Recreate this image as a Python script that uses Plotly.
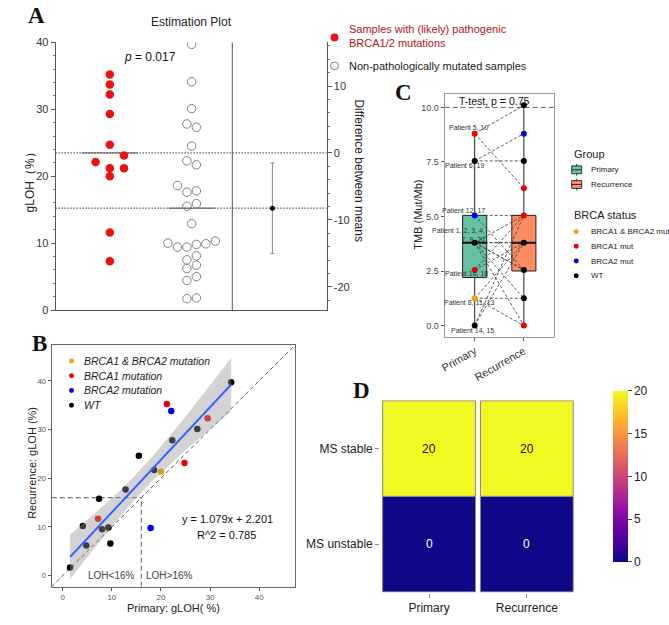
import numpy as np
import plotly.graph_objects as go

W, H = 669, 625
FONT = "Liberation Sans, Arial, sans-serif"
SERIF = "Liberation Serif, Times New Roman, serif"

# ---------------- Panel A data ----------------
a_brca_gloh = [35.2, 33.7, 32.2, 29.3, 24.7, 23.1, 22.1, 21.2, 21.2, 20.0, 11.6, 7.3]
a_brca_slot = [0, 0, 0, 0, 0, 1.5, -1.5, 0, 1.5, 0, 0, 0]
a_non_gloh = [39.7, 34.1, 30.1, 27.8, 27.3, 24.5, 22.3, 21.7, 18.6, 17.6, 17.8, 15.5, 15.9, 12.9,
              10.0, 9.4, 9.4, 9.8, 9.9, 10.3, 7.5, 8.1, 6.2, 6.7, 4.4, 5.0, 1.7, 1.8]
a_non_slot = [0, 0, 0, -0.5, 0.5, 0, -0.5, 0.5, -1.5, -0.5, 0.5, -0.5, 0.5, 0,
              -2.5, -1.5, -0.5, 0.5, 1.5, 2.5, -0.5, 0.5, -0.5, 0.5, -0.5, 0.5, -0.5, 0.5]
a_diff_ci = [-15.0, -1.5]
a_p_text = "<i>p</i> = 0.017"
a_legend = ["Samples with (likely) pathogenic<br>BRCA1/2 mutations", "Non-pathologically mutated samples"]

# ---------------- Panel B data ----------------
b_primary = [1.5, 4.1, 4.8, 7.2, 7.4, 8.0, 9.3, 9.7, 12.8, 15.5, 17.9, 18.6, 20.0, 21.2, 22.1, 22.3, 24.8, 27.4, 29.5, 34.3]
b_recur = [1.7, 10.2, 6.2, 11.7, 15.8, 9.5, 9.9, 6.6, 17.7, 24.6, 9.8, 21.7, 21.3, 35.2, 33.8, 27.8, 23.1, 30.1, 32.3, 39.7]
b_status = ["WT", "WT", "WT", "BRCA1", "WT", "WT", "WT", "WT", "WT", "WT", "BRCA2", "WT",
            "BRCA1&2", "BRCA1", "BRCA2", "WT", "BRCA1", "WT", "BRCA1", "WT"]
b_slope, b_intercept, b_r2 = 1.079, 2.201, 0.785
b_cut = 16
b_t975 = 2.101
b_legend_keys = ["BRCA1&2", "BRCA1", "BRCA2", "WT"]
b_legend_text = ["BRCA1 & BRCA2 mutation", "BRCA1 mutation", "BRCA2 mutation", "WT"]

# ---------------- Panel C data ----------------
c_groups = ["Primary", "Recurrence"]
c_q1 = [2.2, 2.5]
c_med = [3.8, 3.8]
c_q3 = [5.05, 5.05]
c_lo = [0.0, 0.0]
c_hi = [8.8, 10.1]
c_prim_pts = [8.8, 7.55, 5.05, 3.8, 2.55, 1.25, 0.0]
c_prim_status = ["BRCA1", "WT", "BRCA2", "WT", "BRCA1", "BRCA1&2", "WT"]
c_rec_pts = [10.1, 8.8, 7.55, 6.3, 5.05, 3.8, 2.55, 1.25, 0.0]
c_rec_status = ["WT", "BRCA2", "WT", "BRCA1", "BRCA1", "WT", "WT", "WT", "BRCA1"]
c_pair_prim = [3.8, 3.8, 3.8, 3.8, 8.8, 7.55, 3.8, 1.25, 3.8, 8.8, 1.25, 5.05, 1.25, 0.0, 0.0, 2.55, 5.05, 2.55, 7.55, 3.8]
c_pair_rec = [3.8, 2.55, 1.25, 0.0, 10.1, 8.8, 5.05, 1.25, 3.8, 6.3, 3.8, 5.05, 0.0, 3.8, 5.05, 5.05, 2.55, 3.8, 7.55, 2.55]
c_label_text = ["Patient 5, 10", "Patient 6, 19", "Patient 12, 17", "Patient 1, 2, 3, 4,<br>7, 9, 20",
                "Patient 16, 18", "Patient 8, 11, 13", "Patient 14, 15"]
c_label_val = [8.8, 7.55, 5.05, 3.8, 2.55, 1.25, 0.0]
c_ttest = "T-test, p = 0.75"
c_ref_line = 10.0
c_brca_legend = ["BRCA1&2", "BRCA1", "BRCA2", "WT"]
c_brca_legend_text = ["BRCA1 & BRCA2 mut", "BRCA1 mut", "BRCA2 mut", "WT"]

# ---------------- Panel D data ----------------
d_rows = ["MS stable", "MS unstable"]
d_cols = ["Primary", "Recurrence"]
d_counts = [[20, 20], [0, 0]]

STATUS_COL = {"BRCA1&2": "#f5a300", "BRCA1": "#ee0000", "BRCA2": "#0000ee", "WT": "#000000"}
BOX_COL = ["#66c2a5", "#fc8d62"]


def fx(p):
    return p / W


def fy(p):
    return 1 - p / H


def ann(text, px, py, size=11, color="#222", xanchor="center", yanchor="middle", **kw):
    d = dict(text=text, x=fx(px), y=fy(py), xref="paper", yref="paper", showarrow=False,
             font=dict(size=size, color=color, family=kw.pop("family", FONT)),
             xanchor=xanchor, yanchor=yanchor)
    d.update(kw)
    return d


fig = go.Figure()
annotations = []
shapes = []

# ================= Panel A =================
A_RED_X, A_NON_X, A_DIV, A_DIFF_X, STEP = 2.0, 5.02, 6.52, 8.0, 0.35
mean_red = float(np.mean(a_brca_gloh))
mean_non = float(np.mean(a_non_gloh))
diff = mean_non - mean_red

for m in (mean_red, mean_non):
    fig.add_trace(go.Scatter(x=[0, 10], y=[m, m], mode="lines", xaxis="x", yaxis="y",
                             line=dict(color="#111", width=1.2, dash="1px,2px"), hoverinfo="skip"))
fig.add_trace(go.Scatter(x=[A_RED_X - 1.03, A_RED_X + 1.03], y=[mean_red] * 2, mode="lines",
                         xaxis="x", yaxis="y", line=dict(color="#555", width=1)))
fig.add_trace(go.Scatter(x=[A_NON_X - 0.85, A_NON_X + 0.85], y=[mean_non] * 2, mode="lines",
                         xaxis="x", yaxis="y", line=dict(color="#555", width=1)))
fig.add_trace(go.Scatter(x=[A_RED_X + s * STEP for s in a_brca_slot], y=a_brca_gloh, mode="markers",
                         xaxis="x", yaxis="y", marker=dict(color="#ee1111", size=8.5, line=dict(width=0))))
fig.add_trace(go.Scatter(x=[A_NON_X + s * STEP for s in a_non_slot], y=a_non_gloh, mode="markers",
                         xaxis="x", yaxis="y",
                         marker=dict(symbol="circle-open", color="#808080", size=8.5, line=dict(width=1))))
fig.add_trace(go.Scatter(x=[A_DIFF_X], y=[diff], mode="markers", xaxis="x", yaxis="y2",
                         marker=dict(color="#111", size=5),
                         error_y=dict(type="data", symmetric=False, array=[a_diff_ci[1] - diff],
                                      arrayminus=[diff - a_diff_ci[0]], color="#888", thickness=1, width=2)))
shapes.append(dict(type="line", xref="x", yref="y", x0=A_DIV, x1=A_DIV, y0=0, y1=40,
                   line=dict(color="#555", width=1)))

# ================= Panel B =================
bx = np.array(b_primary)
by = np.array(b_recur)
pred = b_slope * bx + b_intercept
s_res = np.sqrt(np.sum((by - pred) ** 2) / (len(bx) - 2))
sxx = np.sum((bx - bx.mean()) ** 2)
grid = np.linspace(bx.min(), bx.max(), 80)
fit = b_slope * grid + b_intercept
half = b_t975 * s_res * np.sqrt(1 / len(bx) + (grid - bx.mean()) ** 2 / sxx)

for key in ["WT", "BRCA2", "BRCA1", "BRCA1&2"]:
    idx = [i for i, s in enumerate(b_status) if s == key]
    fig.add_trace(go.Scatter(x=[b_primary[i] for i in idx], y=[b_recur[i] for i in idx], mode="markers",
                             xaxis="x2", yaxis="y3", marker=dict(color=STATUS_COL[key], size=6.5)))
fig.add_trace(go.Scatter(x=np.concatenate([grid, grid[::-1]]), y=np.concatenate([fit + half, (fit - half)[::-1]]),
                         fill="toself", fillcolor="rgba(150,150,150,0.42)", line=dict(width=0),
                         mode="lines", xaxis="x2", yaxis="y3", hoverinfo="skip"))
fig.add_trace(go.Scatter(x=grid, y=fit, mode="lines", xaxis="x2", yaxis="y3",
                         line=dict(color="#3366ff", width=2)))
shapes += [
    dict(type="line", xref="x2", yref="y3", x0=-2.25, y0=-2.25, x1=47.25, y1=47.25, layer="below",
         line=dict(color="#555", width=1, dash="4px,3px")),
    dict(type="line", xref="x2", yref="y3", x0=-2.25, y0=b_cut, x1=b_cut, y1=b_cut, layer="below",
         line=dict(color="#777", width=1.2, dash="5px,3px")),
    dict(type="line", xref="x2", yref="y3", x0=b_cut, y0=-2.25, x1=b_cut, y1=b_cut, layer="below",
         line=dict(color="#777", width=1.2, dash="5px,3px")),
]
annotations += [
    dict(text="LOH<16%", x=9.9, y=0, xref="x2", yref="y3", showarrow=False,
         font=dict(size=10, color="#444", family=FONT)),
    dict(text="LOH>16%", x=21.8, y=0, xref="x2", yref="y3", showarrow=False,
         font=dict(size=10, color="#444", family=FONT)),
    dict(text=f"y = {b_slope}x + {b_intercept}", x=33.6, y=11.6, xref="x2", yref="y3", showarrow=False,
         font=dict(size=11, color="#111", family=FONT)),
    dict(text=f"R^2 = {b_r2}", x=33.4, y=8.4, xref="x2", yref="y3", showarrow=False,
         font=dict(size=11, color="#111", family=FONT)),
]
for i, (k, t) in enumerate(zip(b_legend_keys, b_legend_text)):
    cy = 362 + 15 * i
    shapes.append(dict(type="circle", xref="paper", yref="paper", x0=fx(64.5), x1=fx(69.5),
                       y0=fy(cy + 2.5), y1=fy(cy - 2.5), fillcolor=STATUS_COL[k], line=dict(width=0)))
    annotations.append(ann(f"<i>{t}</i>", 78, cy, size=10.5, color="#222", xanchor="left"))

# ================= Panel C =================
CX = [1, 2]
for i in range(2):
    fig.add_trace(go.Box(x=[CX[i]], q1=[c_q1[i]], median=[c_med[i]], q3=[c_q3[i]],
                         lowerfence=[c_lo[i]], upperfence=[c_hi[i]], width=0.49, whiskerwidth=0,
                         fillcolor=BOX_COL[i], line=dict(color="#222", width=1), boxpoints=False,
                         xaxis="x3", yaxis="y4"))
    fig.add_trace(go.Scatter(x=[CX[i] - 0.245, CX[i] + 0.245], y=[c_med[i]] * 2, mode="lines",
                             xaxis="x3", yaxis="y4", line=dict(color="#111", width=2)))
for p, r in zip(c_pair_prim, c_pair_rec):
    fig.add_trace(go.Scatter(x=CX, y=[p, r], mode="lines", xaxis="x3", yaxis="y4",
                             line=dict(color="#333", width=0.8, dash="3px,2px")))
fig.add_trace(go.Scatter(x=[CX[0]] * len(c_prim_pts), y=c_prim_pts, mode="markers", xaxis="x3", yaxis="y4",
                         marker=dict(color=[STATUS_COL[s] for s in c_prim_status], size=6)))
fig.add_trace(go.Scatter(x=[CX[1]] * len(c_rec_pts), y=c_rec_pts, mode="markers", xaxis="x3", yaxis="y4",
                         marker=dict(color=[STATUS_COL[s] for s in c_rec_status], size=6)))
shapes.append(dict(type="line", xref="x3 domain", yref="y4", x0=0, x1=1, y0=c_ref_line, y1=c_ref_line,
                   line=dict(color="#666", width=1, dash="5px,3px")))
annotations.append(dict(text=c_ttest, x=1.4, y=10.3, xref="x3", yref="y4", showarrow=False,
                        font=dict(size=10.5, color="#111", family=FONT)))
lab_off = [(-6, 6, "center"), (-10, -4.5, "center"), (-11, 5, "center"), (12, 8, "right"),
           (-8, -4, "center"), (-5, -4, "center"), (-2, -5, "center")]
for t, v, (dx, dy, xa) in zip(c_label_text, c_label_val, lab_off):
    annotations.append(dict(text=t, x=CX[0], y=v, xref="x3", yref="y4", showarrow=False, xshift=dx, yshift=dy,
                            xanchor=xa, align="right", font=dict(size=7, color="#333", family=FONT)))
annotations.append(ann("Group", 571, 151, size=11, xanchor="left"))
for i, g in enumerate(c_groups):
    cy = 167 + 15 * i
    shapes.append(dict(type="line", xref="paper", yref="paper", x0=fx(576), x1=fx(576), y0=fy(cy + 6),
                       y1=fy(cy - 6), line=dict(color="#333", width=1)))
    shapes.append(dict(type="rect", xref="paper", yref="paper", x0=fx(571), x1=fx(581), y0=fy(cy + 4),
                       y1=fy(cy - 4), fillcolor=BOX_COL[i], line=dict(color="#333", width=1)))
    shapes.append(dict(type="line", xref="paper", yref="paper", x0=fx(571), x1=fx(581), y0=fy(cy),
                       y1=fy(cy), line=dict(color="#333", width=1)))
    annotations.append(ann(g, 588, cy, size=8, xanchor="left"))
annotations.append(ann("BRCA status", 571, 213, size=11, xanchor="left"))
for i, (k, t) in enumerate(zip(c_brca_legend, c_brca_legend_text)):
    cy = 230 + 15 * i
    shapes.append(dict(type="circle", xref="paper", yref="paper", x0=fx(573), x1=fx(578),
                       y0=fy(cy + 2.5), y1=fy(cy - 2.5), fillcolor=STATUS_COL[k], line=dict(width=0)))
    annotations.append(ann(t, 588, cy, size=8, xanchor="left"))

# ================= Panel D =================
fig.add_trace(go.Heatmap(z=d_counts, x=d_cols, y=d_rows, colorscale="Plasma", zmin=0, zmax=20, xgap=5,
                         xaxis="x4", yaxis="y5",
                         colorbar=dict(x=fx(603), xanchor="left", y=fy(577), yanchor="bottom",
                                       len=(577 - 382) / H, lenmode="fraction", thickness=15,
                                       tickvals=[0, 5, 10, 15, 20], ticks="outside", ticklen=4,
                                       tickcolor="#444", outlinewidth=0,
                                       tickfont=dict(size=12, color="#222", family=FONT))))
g = 2.5 / 98.5
for i, row in enumerate(d_rows):
    for j, col in enumerate(d_cols):
        v = d_counts[i][j]
        shapes.append(dict(type="rect", xref="x4", yref="y5", x0=j - 0.5 + g, x1=j + 0.5 - g,
                           y0=i - 0.5, y1=i + 0.5, line=dict(color="#888", width=1)))
        annotations.append(dict(text=str(v), x=col, y=row, xref="x4", yref="y5", showarrow=False,
                                font=dict(size=12, color="#111" if v > 10 else "white", family=FONT)))

# ================= Texts =================
annotations += [
    ann("Estimation Plot", 188, 16, size=12),
    ann(a_p_text, 146, 52, size=12, color="#111"),
    ann("gLOH（%）", 25, 177, size=12, textangle=-90),
    ann("Difference between means", 357, 168, size=12, textangle=90),
    ann(a_legend[0], 345, 31, size=11, color="#b01515", xanchor="left", align="left"),
    ann(a_legend[1], 345, 61, size=11, color="#222", xanchor="left"),
    ann("Recurrence: gLOH (%)", 27, 466, size=11, textangle=-90),
    ann("Primary: gLOH( %)", 170, 614, size=11),
    ann("TMB (Mut/Mb)", 416, 213, size=11, textangle=-90),
    ann("<b>A</b>", 32, 10, size=23, color="#111", family=SERIF),
    ann("<b>B</b>", 35, 344, size=23, color="#111", family=SERIF),
    ann("<b>C</b>", 401, 88, size=23, color="#111", family=SERIF),
    ann("<b>D</b>", 359, 392, size=23, color="#111", family=SERIF),
]
shapes.append(dict(type="circle", xref="paper", yref="paper", x0=fx(328), x1=fx(336), y0=fy(36), y1=fy(28),
                   fillcolor="#ee1111", line=dict(width=0)))
shapes.append(dict(type="circle", xref="paper", yref="paper", x0=fx(328), x1=fx(336), y0=fy(65), y1=fy(57),
                   line=dict(color="#808080", width=1)))

ax_common = dict(showgrid=False, zeroline=False, fixedrange=True)
tick_font_a = dict(size=11, color="#333", family=FONT)
fig.update_layout(
    width=W, height=H, margin=dict(l=0, r=0, t=0, b=0), paper_bgcolor="white", plot_bgcolor="white",
    showlegend=False, font=dict(family=FONT),
    xaxis=dict(domain=[fx(51), fx(324)], range=[0, 10], anchor="y", showticklabels=False, ticks="",
               showline=True, linecolor="#555", linewidth=1, **ax_common),
    yaxis=dict(domain=[fy(310), fy(37)], range=[0, 40], anchor="x", tickmode="linear", tick0=0, dtick=10,
               ticks="outside", ticklen=4, tickcolor="#555", showline=True, linecolor="#555",
               minor=dict(tickmode="linear", tick0=0, dtick=2, ticks="outside", ticklen=2, tickcolor="#777"),
               tickfont=tick_font_a, **ax_common),
    yaxis2=dict(overlaying="y", side="right", anchor="x", range=[-mean_red, 40 - mean_red],
                tickmode="array", tickvals=[-20, -10, 0, 10], ticktext=["-20", "-10", "0", "10"],
                ticks="outside", ticklen=4, tickcolor="#555", showline=True, linecolor="#555",
                minor=dict(tickmode="linear", tick0=0, dtick=2, ticks="outside", ticklen=2, tickcolor="#777"),
                tickfont=tick_font_a, **ax_common),
    xaxis2=dict(domain=[fx(47), fx(292)], range=[-2.25, 47.25], anchor="y3", dtick=10, tick0=0,
                ticks="outside", ticklen=3, tickcolor="#555", showline=True, mirror=True, linecolor="#666",
                tickfont=dict(size=8, color="#555", family=FONT), **ax_common),
    yaxis3=dict(domain=[fy(592), fy(346)], range=[-2.25, 47.25], anchor="x2", dtick=10, tick0=0,
                ticks="outside", ticklen=3, tickcolor="#555", showline=True, mirror=True, linecolor="#666",
                tickfont=dict(size=8, color="#555", family=FONT), **ax_common),
    xaxis3=dict(domain=[fx(443), fx(553)], range=[0.39, 2.61], anchor="y4", tickmode="array", tickvals=CX,
                ticktext=c_groups, tickangle=-30, ticks="outside", ticklen=3, tickcolor="#555",
                showline=True, mirror=True, linecolor="#999", linewidth=1.2,
                tickfont=dict(size=11, color="#333", family=FONT), **ax_common),
    yaxis4=dict(domain=[fy(337), fy(90)], range=[-0.505, 10.605], anchor="x3", tickmode="array",
                tickvals=[0, 2.5, 5, 7.5, 10], ticktext=["0.0", "2.5", "5.0", "7.5", "10.0"],
                ticks="outside", ticklen=3, tickcolor="#555", showline=True, mirror=True, linecolor="#999",
                linewidth=1.2, tickfont=dict(size=9, color="#444", family=FONT), **ax_common),
    xaxis4=dict(domain=[fx(378), fx(575)], anchor="y5", type="category", ticks="outside", ticklen=4,
                tickcolor="#888", showline=False, tickfont=dict(size=12, color="#222", family=FONT), **ax_common),
    yaxis5=dict(domain=[fy(598), fy(402)], anchor="x4", type="category", autorange="reversed",
                ticks="outside", ticklen=4, tickcolor="#888", showline=False,
                tickfont=dict(size=12, color="#222", family=FONT), **ax_common),
    annotations=annotations, shapes=shapes,
)

fig.write_html("out.html")
